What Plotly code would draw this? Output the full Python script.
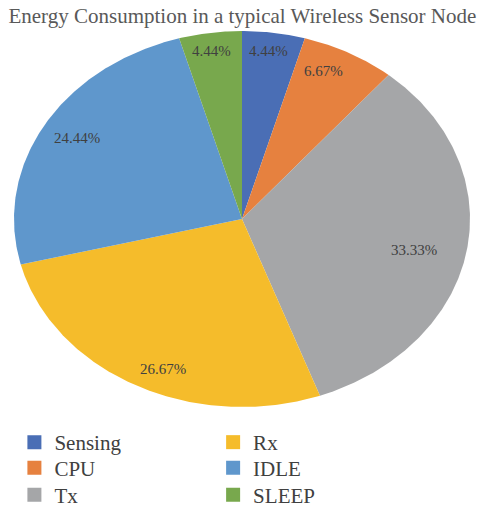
import numpy as np
import plotly.graph_objects as go

categories = ["Sensing", "CPU", "Tx", "Rx", "IDLE", "SLEEP"]
values = [2, 3, 15, 12, 11, 2]
colors = ["#4A6EB5", "#E6813F", "#A5A6A8", "#F5BC2B", "#5F97CC", "#78A84D"]

# label placement: fraction of radius and angular nudge (degrees) from slice mid-angle
label_r = [0.903, 0.867, 0.771, 0.870, 0.842, 0.905]
label_dang = [-0.5, -3.5, 2.4, -4.6, 0.8, -0.4]
legend_pos = [(0.030, 1 - 442.5 / 508), (0.030, 1 - 468 / 508), (0.030, 1 - 495 / 508),
              (0.444, 1 - 442.5 / 508), (0.444, 1 - 468 / 508), (0.444, 1 - 495 / 508)]

total = float(sum(values))
fracs = [v / total for v in values]
cum = np.concatenate([[0.0], np.cumsum(fracs)])

fig = go.Figure()
for i, name in enumerate(categories):
    a0, a1 = cum[i] * 2 * np.pi, cum[i + 1] * 2 * np.pi
    n = max(4, int((a1 - a0) / (2 * np.pi) * 720))
    t = np.linspace(a0, a1, n)
    xs = np.concatenate([[0.0], np.sin(t), [0.0]])
    ys = np.concatenate([[0.0], np.cos(t), [0.0]])
    fig.add_trace(go.Scatter(x=xs, y=ys, mode="lines", fill="toself",
                             fillcolor=colors[i], line=dict(width=0, color=colors[i]),
                             showlegend=False, hoverinfo="skip"))

for i, name in enumerate(categories):
    am = (cum[i] + cum[i + 1]) * np.pi + np.deg2rad(label_dang[i])
    pct = values[i] / total * 100
    fig.add_annotation(x=label_r[i] * np.sin(am), y=label_r[i] * np.cos(am),
                       text=f"{pct:.2f}%", showarrow=False,
                       font=dict(family="Liberation Serif", size=15, color="#404040"))

legend_layout = {}
for i, name in enumerate(categories):
    key = "legend" if i == 0 else f"legend{i + 1}"
    fig.add_trace(go.Scatter(x=[None], y=[None], mode="markers", name=name,
                             marker=dict(symbol="square", size=14, color=colors[i]),
                             legend=key))
    lx, ly = legend_pos[i]
    legend_layout[key] = dict(x=lx, y=ly, xanchor="left", yanchor="middle",
                              orientation="v", itemsizing="trace",
                              font=dict(family="Liberation Serif", size=21, color="#404040"),
                              bgcolor="rgba(0,0,0,0)", borderwidth=0)

fig.update_layout(
    width=480, height=508,
    margin=dict(l=0, r=0, t=0, b=0, autoexpand=False),
    paper_bgcolor="white", plot_bgcolor="white",
    title=dict(text="Energy Consumption in a typical Wireless Sensor Node",
               x=0.505, xanchor="center", y=1 - 16 / 508, yanchor="middle",
               font=dict(family="Liberation Serif", size=21, color="#595959")),
    xaxis=dict(range=[-1, 1], domain=[14 / 480, 470 / 480], visible=False, fixedrange=True),
    yaxis=dict(range=[-1, 1], domain=[1 - 407 / 508, 1 - 31 / 508], visible=False, fixedrange=True),
    showlegend=True,
    hovermode=False,
    **legend_layout,
)

fig.write_html("out.html", config={"displayModeBar": False, "staticPlot": False},
               post_script="document.body.style.margin='0';document.body.style.overflow='hidden';")
